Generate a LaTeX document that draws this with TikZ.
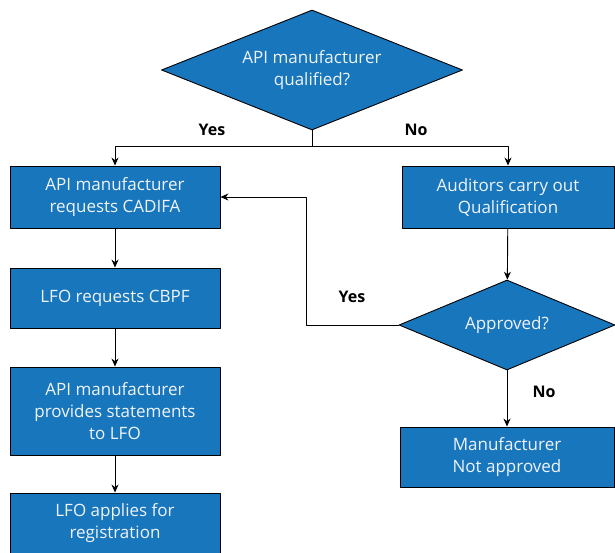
\documentclass[tikz,border=0pt]{standalone}
\usepackage{fontspec}
\setmainfont{Open Sans}
\usetikzlibrary{shapes.geometric, arrows.meta}
\definecolor{boxblue}{RGB}{24,118,189}
\definecolor{boxtext}{RGB}{240,244,250}
\tikzset{
  stepbox/.style={draw=black, fill=boxblue, text=boxtext, minimum width=210pt, minimum height=62pt, inner sep=0pt, align=center},
  decide/.style={diamond, aspect=2.5, draw=black, fill=boxblue, text=boxtext, inner sep=0pt, align=center},
  answer/.style={font=\fontsize{16}{20}\selectfont\bfseries, text=black}
}
\begin{document}
\begin{tikzpicture}[x=1pt, y=-1pt, >={Stealth[length=8pt,width=7pt]}, line width=0.9pt, font=\fontsize{17}{22}\selectfont, line join=round]
	\useasboundingbox (0,0) rectangle (615,553);
	% question and the two branches
	\node[decide, minimum width=301pt, minimum height=120pt] (qual) at (312,70) {API manufacturer\\qualified?};
	\node[stepbox] (req) at (115,197) {API manufacturer\\requests CADIFA};
	\node[stepbox, minimum width=212pt] (aud) at (508,197) {Auditors carry out\\Qualification};
	\coordinate (split) at (312,146);
	\draw (qual.south) -- (split);
	\draw[->] (split) -| (req.north);
	\draw[->] (split) -| (aud.north);
	\node[answer] (yes1) at (212,130) {Yes};
	\node[answer] (no1) at (416,130) {No};
	% left column
	\node[stepbox, minimum height=60pt] (cbpf) at (115,298) {LFO requests CBPF};
	\node[stepbox, minimum height=88pt] (stmt) at (115,411) {API manufacturer\\provides statements\\to LFO};
	\node[stepbox, minimum height=60pt] (apply) at (115,523) {LFO applies for\\registration};
	\draw[->] (req) -- (cbpf);
	\draw[->] (cbpf) -- (stmt);
	\draw[->] (stmt) -- (apply);
	% right column
	\node[decide, minimum width=216pt, minimum height=90pt] (appr) at (507,325) {Approved?};
	\node[stepbox, minimum width=214pt, minimum height=60pt] (nap) at (507,457) {Manufacturer\\Not approved};
	\draw[->] (aud) -- (appr);
	\draw[->] (appr.west) -- ++(-92,0) |- (req.east);
	\draw[->] (appr) -- (nap);
	\node[answer] (yes2) at (352,297) {Yes};
	\node[answer] (no2) at (544,392) {No};
\end{tikzpicture}
\end{document}
